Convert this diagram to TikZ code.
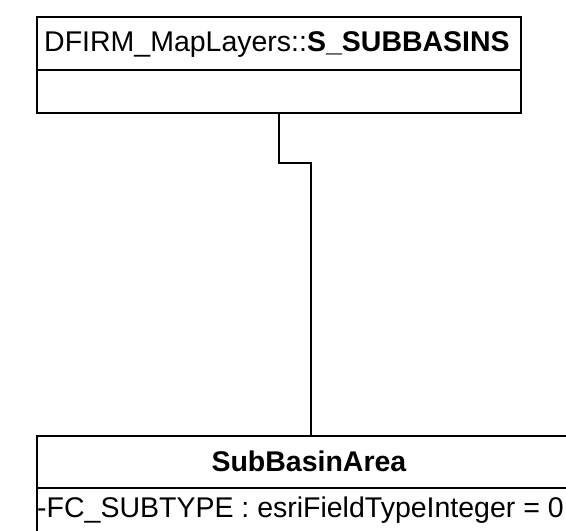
\documentclass[tikz,border=0pt]{standalone}
\usepackage{fontspec}
\setmainfont{Liberation Sans}
\usetikzlibrary{positioning}
\tikzset{
  classbox/.style={draw, line width=1.7bp, inner sep=0pt},
  classtext/.style={inner sep=0pt, anchor=base, font=\fontsize{28.6}{32}\selectfont},
  link/.style={line width=2.4bp}
}
\begin{document}
\begin{tikzpicture}[x=1bp, y=-1bp]
  \useasboundingbox (0,0) rectangle (566,531);
  \clip (0,0) rectangle (566,531);
  % feature class S_SUBBASINS
  \node [classbox, minimum width=484bp, minimum height=96bp] (subbasins) at (279,65) {};
  \node [classtext] (subbasinsname) at (277,52) {DFIRM\_MapLayers::\textbf{S\_SUBBASINS}};
  \draw [line width=1.7bp] (subbasins.west |- 0,70) -- (subbasins.east |- 0,70);
  % subtype SubBasinArea
  \node [classbox, minimum width=548bp, minimum height=124bp] (area) at (311,498) {};
  \node [classtext] (areaname) at (309,471) {\textbf{SubBasinArea}};
  \draw [line width=1.7bp] (area.west |- 0,488) -- (area.east |- 0,488);
  \node [classtext, anchor=base west] (areaattr) at (37,517) {-FC\_SUBTYPE : esriFieldTypeInteger = 0};
  % connector
  \draw [link] (subbasins.south) -- ++(0,49) -| (area.north);
\end{tikzpicture}
\end{document}
